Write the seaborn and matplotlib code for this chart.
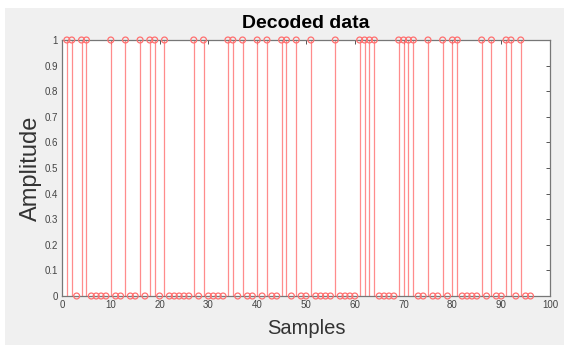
import numpy as np
import pandas as pd
import matplotlib
matplotlib.use("Agg")
import matplotlib.pyplot as plt
from matplotlib import font_manager
import seaborn as sns
from matplotlib.patches import Rectangle

samples = list(range(1, 97))
amplitude = [1, 1, 0, 1, 1, 0, 0, 0, 0, 1,
             0, 0, 1, 0, 0, 1, 0, 1, 1, 0,
             1, 0, 0, 0, 0, 0, 1, 0, 1, 0,
             0, 0, 0, 1, 1, 0, 1, 0, 0, 1,
             0, 1, 0, 0, 1, 1, 0, 1, 0, 0,
             1, 0, 0, 0, 0, 1, 0, 0, 0, 0,
             1, 1, 1, 1, 0, 0, 0, 0, 1, 1,
             1, 1, 0, 0, 1, 0, 0, 1, 0, 1,
             1, 0, 0, 0, 0, 1, 0, 1, 0, 0,
             1, 1, 0, 1, 0, 0]
x_ticks = list(range(0, 101, 10))
y_ticks = [round(0.1 * i, 1) for i in range(11)]
y_ticklabels = ["0"] + [f"{v:g}" for v in y_ticks[1:-1]] + ["1"]

df = pd.DataFrame({"Samples": samples, "Amplitude": amplitude})

sns.set_style("white")
plt.rcParams["font.family"] = ["Liberation Sans", "DejaVu Sans"]

available = {f.name for f in font_manager.fontManager.ttflist}
if "Liberation Sans Narrow" in available:
    title_family, title_size = ["Liberation Sans Narrow", "DejaVu Sans"], 16.5
elif "DejaVu Sans Condensed" in available:
    title_family, title_size = ["DejaVu Sans Condensed", "DejaVu Sans"], 14
else:
    title_family, title_size = ["Liberation Sans", "DejaVu Sans"], 14

fig = plt.figure(figsize=(5.64, 3.45), dpi=100, facecolor="white")
fig.patches.append(Rectangle((5 / 564, 0), 1 - 5 / 564, 1 - 8 / 345,
                             transform=fig.transFigure, facecolor="#f0f0f0",
                             edgecolor="none", zorder=-10))
ax = fig.add_axes([62 / 564, 1 - 296 / 345, (550 - 62) / 564, (296 - 40) / 345])
ax.set_zorder(1)
ax.set_facecolor("white")

stem_color = "#ff7070"
ax.vlines(df["Samples"], 0, df["Amplitude"], color=stem_color, lw=0.9, alpha=0.8, zorder=2)
sns.scatterplot(data=df, x="Samples", y="Amplitude", ax=ax, marker="o",
                facecolors="none", edgecolor=stem_color, linewidth=0.9, s=18,
                zorder=3, clip_on=False)

ax.set_xlim(0, 100)
ax.set_ylim(0, 1)
ax.set_xticks(x_ticks)
ax.set_yticks(y_ticks)
ax.set_yticklabels(y_ticklabels)
ax.tick_params(direction="in", length=3, width=0.7, colors="#555555",
               labelsize=7, labelcolor="#444444", top=True, right=True,
               pad=3)
for sp in ax.spines.values():
    sp.set_visible(True)
    sp.set_color("#777777")
    sp.set_linewidth(0.9)

ax.set_title("Decoded data", fontsize=title_size, fontweight="bold",
             family=title_family, pad=8.5, color="black")
ax.set_xlabel("Samples", fontsize=14.5, color="#333333", labelpad=6)
ax.set_ylabel("Amplitude", fontsize=17, color="#333333", labelpad=2)

fig.savefig("out.png", dpi=100, facecolor=fig.get_facecolor())
